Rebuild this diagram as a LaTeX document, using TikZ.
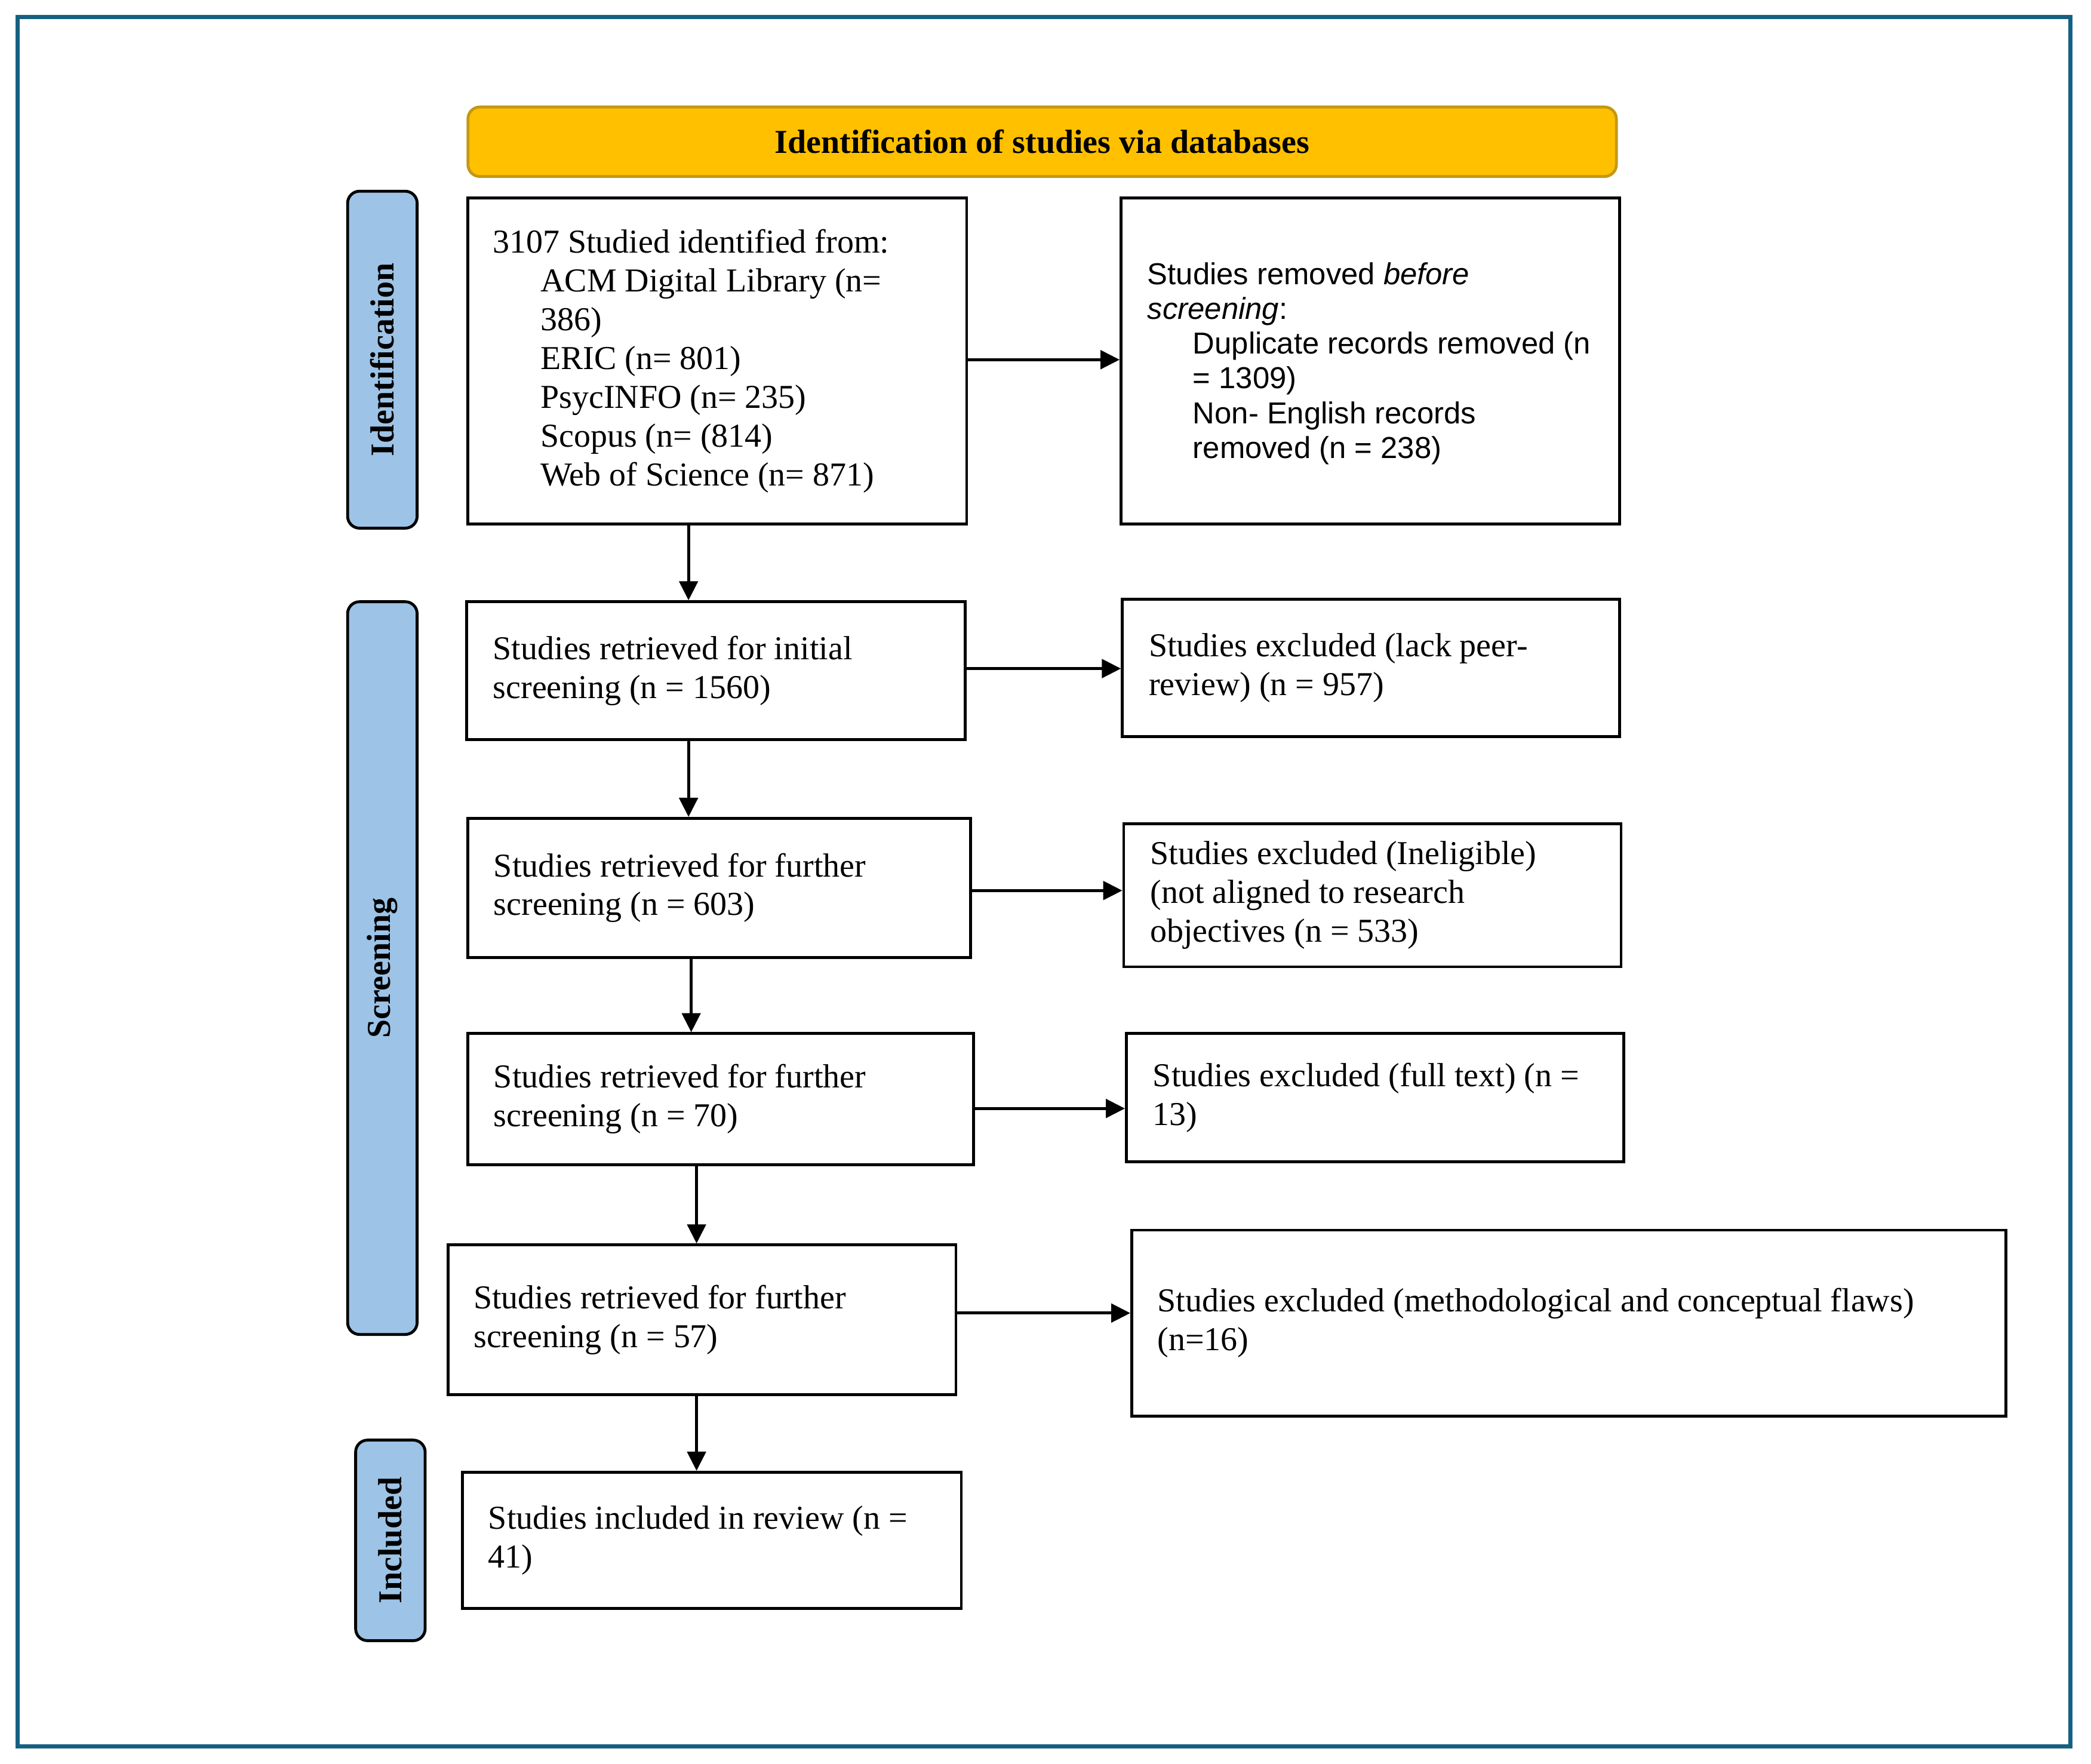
\documentclass[tikz,border=0pt]{standalone}
\usepackage{fontspec}
\setmainfont{Liberation Serif}
\newfontfamily\arialf{Liberation Sans}
\usetikzlibrary{arrows.meta}
\definecolor{frameblue}{RGB}{22,96,130}
\definecolor{hdrfill}{RGB}{255,192,0}
\definecolor{hdrline}{RGB}{196,152,20}
\definecolor{labfill}{RGB}{157,195,230}
\tikzset{
  box/.style={draw=black, line width=1.2pt, fill=white, inner sep=0pt},
  lab/.style={draw=black, line width=1.2pt, fill=labfill, rounded corners=5pt, inner sep=0pt},
  labtxt/.style={font=\fontsize{14}{16}\selectfont\bfseries, rotate=90, inner sep=0pt},
  txt/.style={anchor=west, inner sep=0pt, align=left, font=\fontsize{14}{16.24}\selectfont},
  stxt/.style={anchor=west, inner sep=0pt, align=left, font=\arialf\fontsize{12.7}{14.56}\selectfont},
  arr/.style={line width=1.2pt, -{Triangle[length=8pt,width=7.8pt]}},
}
\begin{document}
\begin{tikzpicture}[x=0.56pt,y=-0.56pt]
\useasboundingbox (0,0) rectangle (1564,1319);
\fill[white] (0,0) rectangle (1564,1319);
% frame
\draw[frameblue, line width=1.75pt] (13,12.5) rectangle (1548.5,1306);

% header
\node[draw=hdrline, line width=1.2pt, fill=hdrfill, rounded corners=5pt,
      minimum width=859*0.56pt, minimum height=52*0.56pt, inner sep=0pt,
      font=\fontsize{14}{16}\selectfont\bfseries] (hdr) at (779.5,106)
      {Identification of studies via databases};

% phase labels
\node[lab, minimum width=52*0.56pt, minimum height=252*0.56pt] (lid) at (286,269) {};
\node[labtxt] (lidt) at (lid.center) {Identification};
\node[lab, minimum width=52*0.56pt, minimum height=548*0.56pt] (lscr) at (286,724) {};
\node[labtxt] (lscrt) at (lscr.center) {Screening};
\node[lab, minimum width=52*0.56pt, minimum height=150*0.56pt] (linc) at (292,1152) {};
\node[labtxt] (linct) at (linc.center) {Included};

% boxes
\node[box, minimum width=373*0.56pt, minimum height=244*0.56pt] (A) at (536.5,270) {};
\node[box, minimum width=373*0.56pt, minimum height=244*0.56pt] (B) at (1025,270) {};
\node[box, minimum width=373*0.56pt, minimum height=103*0.56pt] (C) at (535.5,501.5) {};
\node[box, minimum width=372*0.56pt, minimum height=103*0.56pt] (D) at (1025.5,499.5) {};
\node[box, minimum width=376*0.56pt, minimum height=104*0.56pt] (E) at (538,664) {};
\node[box, minimum width=372*0.56pt, minimum height=107*0.56pt] (F) at (1026.5,669.5) {};
\node[box, minimum width=378*0.56pt, minimum height=98*0.56pt] (G) at (539,822) {};
\node[box, minimum width=372*0.56pt, minimum height=96*0.56pt] (H) at (1028.5,821) {};
\node[box, minimum width=380*0.56pt, minimum height=112*0.56pt] (I) at (525,987) {};
\node[box, minimum width=654*0.56pt, minimum height=139*0.56pt] (J) at (1173.5,989.5) {};
\node[box, minimum width=373*0.56pt, minimum height=102*0.56pt] (K) at (532.5,1152) {};

% texts
\node[txt] (At) at ([xshift=10.8pt]A.west) {3107 Studied identified from:\\
\hspace*{20pt}ACM Digital Library (n=\\
\hspace*{20pt}386)\\
\hspace*{20pt}ERIC (n= 801)\\
\hspace*{20pt}PsycINFO (n= 235)\\
\hspace*{20pt}Scopus (n= (814)\\
\hspace*{20pt}Web of Science (n= 871)};
\node[stxt] (Bt) at ([xshift=11.5pt,yshift=-1pt]B.west) {Studies removed \textit{before}\\
\textit{screening}:\\
\hspace*{19pt}Duplicate records removed (n\\
\hspace*{19pt}= 1309)\\
\hspace*{19pt}Non- English records\\
\hspace*{19pt}removed (n = 238)};
\node[txt] (Ct) at ([xshift=11.5pt]C.west) {Studies retrieved for initial\\screening (n = 1560)};
\node[txt] (Dt) at ([xshift=11.5pt]D.west) {Studies excluded (lack peer-\\review) (n = 957)};
\node[txt] (Et) at ([xshift=11.2pt]E.west) {Studies retrieved for further\\screening (n = 603)};
\node[txt] (Ft) at ([xshift=11.5pt]F.west) {Studies excluded (Ineligible)\\(not aligned to research\\objectives (n = 533)};
\node[txt] (Gt) at ([xshift=11.2pt]G.west) {Studies retrieved for further\\screening (n = 70)};
\node[txt] (Ht) at ([xshift=11.5pt]H.west) {Studies excluded (full text) (n =\\13)};
\node[txt] (It) at ([xshift=11.2pt]I.west) {Studies retrieved for further\\screening (n = 57)};
\node[txt] (Jt) at ([xshift=11.2pt]J.west) {Studies excluded (methodological and conceptual flaws)\\(n=16)};
\node[txt] (Kt) at ([xshift=11.2pt]K.west) {Studies included in review (n =\\41)};

% vertical arrows
\draw[arr] ([xshift=-21.5*0.56pt]A.south) -- ([xshift=-21.5*0.56pt]A.south |- C.north);
\draw[arr] ([xshift=-20.5*0.56pt]C.south) -- ([xshift=-20.5*0.56pt]C.south |- E.north);
\draw[arr] ([xshift=-21*0.56pt]E.south) -- ([xshift=-21*0.56pt]E.south |- G.north);
\draw[arr] ([xshift=-18*0.56pt]G.south) -- ([xshift=-18*0.56pt]G.south |- I.north);
\draw[arr] ([xshift=-4*0.56pt]I.south) -- ([xshift=-4*0.56pt]I.south |- K.north);

% horizontal arrows
\draw[arr] ([yshift=1*0.56pt]A.east) -- ([yshift=1*0.56pt]A.east -| B.west);
\draw[arr] ([yshift=1.5*0.56pt]C.east) -- ([yshift=1.5*0.56pt]C.east -| D.west);
\draw[arr] ([yshift=-2*0.56pt]E.east) -- ([yshift=-2*0.56pt]E.east -| F.west);
\draw[arr] ([yshift=-7*0.56pt]G.east) -- ([yshift=-7*0.56pt]G.east -| H.west);
\draw[arr] ([yshift=5*0.56pt]I.east) -- ([yshift=5*0.56pt]I.east -| J.west);
\end{tikzpicture}
\end{document}
